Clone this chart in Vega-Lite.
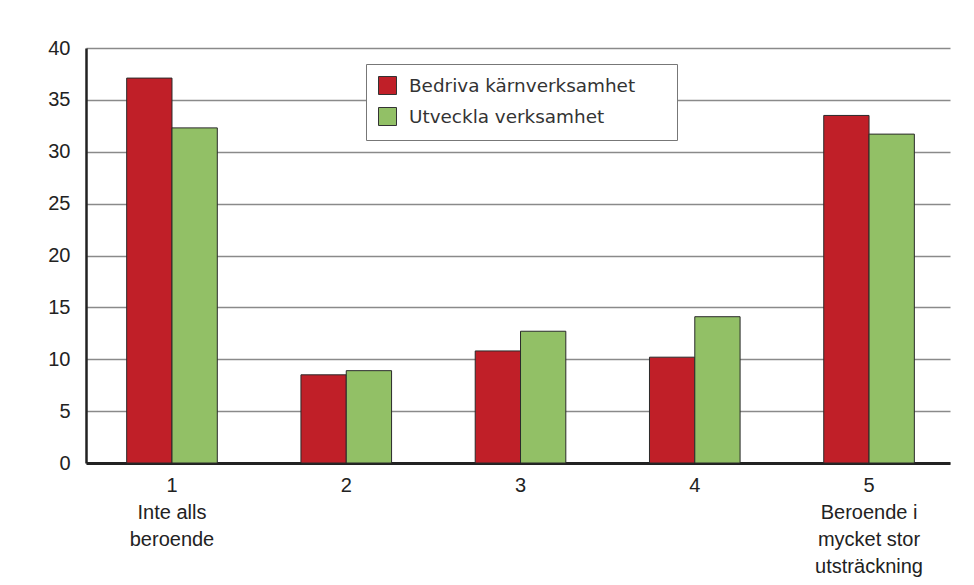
{
  "$schema": "https://vega.github.io/schema/vega-lite/v6.json",
  "width": 864,
  "height": 415,
  "autosize": {"type": "none"},
  "padding": {"left": 86, "top": 48, "right": 24, "bottom": 122},
  "background": "white",
  "data": {
    "values": [
      {"grp": "1|Inte alls|beroende", "serie": "Bedriva kärnverksamhet", "value": 37.1},
      {"grp": "1|Inte alls|beroende", "serie": "Utveckla verksamhet", "value": 32.3},
      {"grp": "2", "serie": "Bedriva kärnverksamhet", "value": 8.5},
      {"grp": "2", "serie": "Utveckla verksamhet", "value": 8.9},
      {"grp": "3", "serie": "Bedriva kärnverksamhet", "value": 10.8},
      {"grp": "3", "serie": "Utveckla verksamhet", "value": 12.7},
      {"grp": "4", "serie": "Bedriva kärnverksamhet", "value": 10.2},
      {"grp": "4", "serie": "Utveckla verksamhet", "value": 14.1},
      {"grp": "5|Beroende i|mycket stor|utsträckning", "serie": "Bedriva kärnverksamhet", "value": 33.5},
      {"grp": "5|Beroende i|mycket stor|utsträckning", "serie": "Utveckla verksamhet", "value": 31.7}
    ]
  },
  "mark": {"type": "bar", "stroke": "#2a2a2a", "strokeWidth": 1},
  "encoding": {
    "x": {
      "field": "grp",
      "type": "nominal",
      "sort": null,
      "scale": {"paddingInner": 0.48, "paddingOuter": 0.219, "align": 0.533},
      "axis": {
        "title": null,
        "labelAngle": 0,
        "labelExpr": "split(datum.label, '|')",
        "labelFont": "Liberation Sans",
        "labelFontSize": 20,
        "labelColor": "#222222",
        "labelLineHeight": 27,
        "labelPadding": 12,
        "labelBaseline": "top",
        "ticks": false,
        "domainColor": "#222222",
        "domainWidth": 3
      }
    },
    "xOffset": {"field": "serie", "type": "nominal", "sort": ["Bedriva kärnverksamhet", "Utveckla verksamhet"]},
    "y": {
      "field": "value",
      "type": "quantitative",
      "scale": {"domain": [0, 40]},
      "axis": {
        "title": null,
        "values": [0, 5, 10, 15, 20, 25, 30, 35, 40],
        "labelFont": "Liberation Sans",
        "labelFontSize": 20,
        "labelColor": "#222222",
        "labelPadding": 16,
        "ticks": false,
        "domainColor": "#222222",
        "domainWidth": 2.5,
        "gridColor": "#8a8a8a",
        "gridWidth": 1.5
      }
    },
    "color": {
      "field": "serie",
      "type": "nominal",
      "sort": ["Bedriva kärnverksamhet", "Utveckla verksamhet"],
      "scale": {"domain": ["Bedriva kärnverksamhet", "Utveckla verksamhet"], "range": ["#c01f28", "#92c066"]},
      "legend": {
        "orient": "none",
        "legendX": 280,
        "legendY": 16,
        "title": " ",
        "titleOrient": "right",
        "titlePadding": 30,
        "titleFontSize": 8,
        "fillColor": "white",
        "strokeColor": "#777777",
        "padding": 12,
        "symbolType": "square",
        "symbolSize": 324,
        "symbolStrokeColor": "#333333",
        "symbolStrokeWidth": 1,
        "labelFont": "DejaVu Sans",
        "labelFontSize": 18.4,
        "labelColor": "#333333",
        "labelLimit": 500,
        "rowPadding": 8,
        "labelOffset": 12
      }
    }
  },
  "config": {"view": {"stroke": null}}
}
